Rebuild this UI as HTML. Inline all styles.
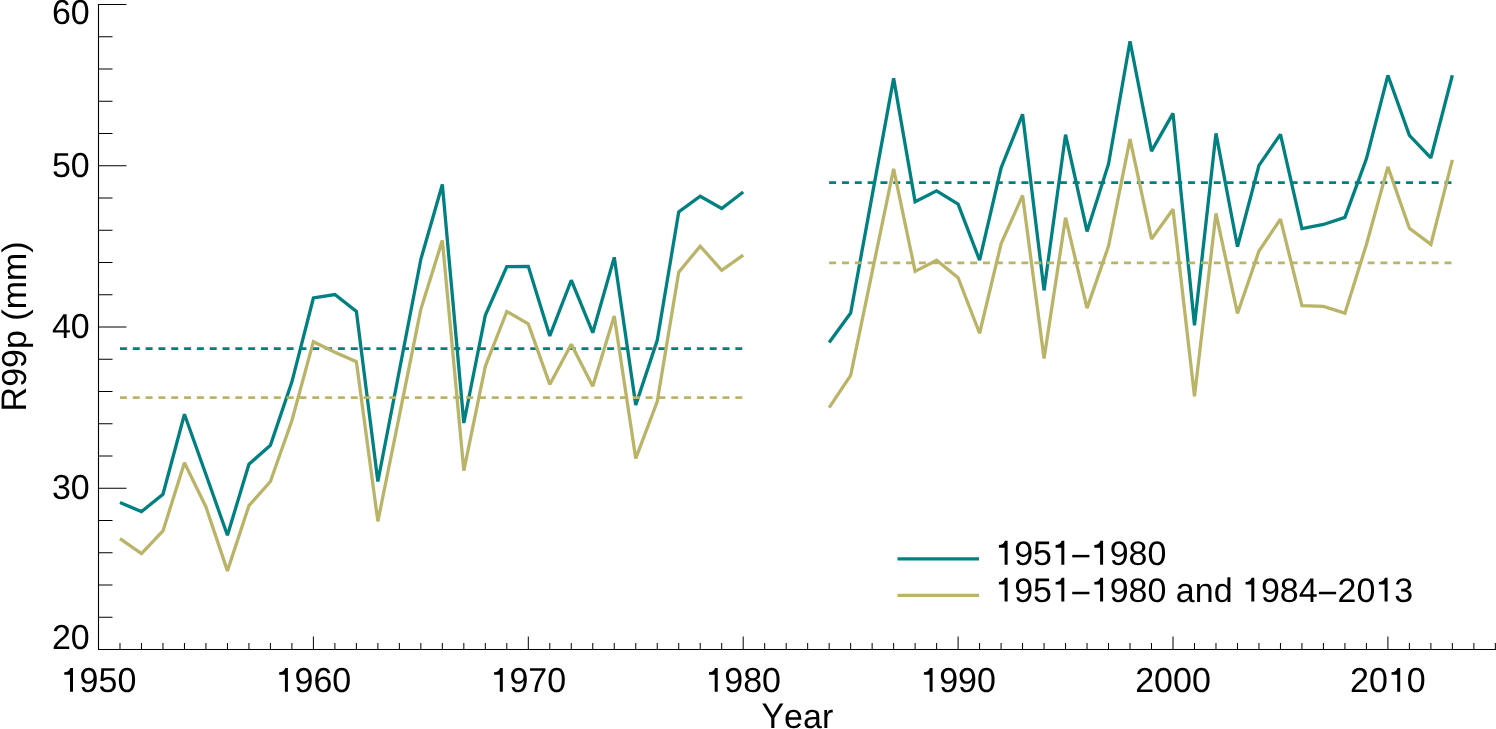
<!DOCTYPE html><html><head><meta charset="utf-8"><title>R99p</title><style>html,body{margin:0;padding:0;background:#fff;}svg{display:block;will-change:transform;}text{font-family:"Liberation Sans",sans-serif;font-size:34px;fill:#000;font-kerning:none;text-rendering:geometricPrecision;}</style></head><body>
<svg width="1496" height="729" viewBox="0 0 1496 729">
<rect width="1496" height="729" fill="#fff"/>
<g stroke="#000" stroke-width="1.1" fill="none">
<line x1="98.5" y1="4.0" x2="98.5" y2="650.0"/>
<line x1="98.0" y1="649.5" x2="1496" y2="649.5"/>
</g>
<g stroke="#000" stroke-width="1">
<line x1="98.5" y1="649.50" x2="126.50" y2="649.50"/>
<line x1="98.5" y1="617.25" x2="112.50" y2="617.25"/>
<line x1="98.5" y1="585.00" x2="112.50" y2="585.00"/>
<line x1="98.5" y1="552.75" x2="112.50" y2="552.75"/>
<line x1="98.5" y1="520.50" x2="112.50" y2="520.50"/>
<line x1="98.5" y1="488.25" x2="126.50" y2="488.25"/>
<line x1="98.5" y1="456.00" x2="112.50" y2="456.00"/>
<line x1="98.5" y1="423.75" x2="112.50" y2="423.75"/>
<line x1="98.5" y1="391.50" x2="112.50" y2="391.50"/>
<line x1="98.5" y1="359.25" x2="112.50" y2="359.25"/>
<line x1="98.5" y1="327.00" x2="126.50" y2="327.00"/>
<line x1="98.5" y1="294.75" x2="112.50" y2="294.75"/>
<line x1="98.5" y1="262.50" x2="112.50" y2="262.50"/>
<line x1="98.5" y1="230.25" x2="112.50" y2="230.25"/>
<line x1="98.5" y1="198.00" x2="112.50" y2="198.00"/>
<line x1="98.5" y1="165.75" x2="126.50" y2="165.75"/>
<line x1="98.5" y1="133.50" x2="112.50" y2="133.50"/>
<line x1="98.5" y1="101.25" x2="112.50" y2="101.25"/>
<line x1="98.5" y1="69.00" x2="112.50" y2="69.00"/>
<line x1="98.5" y1="36.75" x2="112.50" y2="36.75"/>
<line x1="98.5" y1="4.50" x2="126.50" y2="4.50"/>
<line x1="119.99" y1="649.5" x2="119.99" y2="643.00"/>
<line x1="141.48" y1="649.5" x2="141.48" y2="643.00"/>
<line x1="162.97" y1="649.5" x2="162.97" y2="643.00"/>
<line x1="184.46" y1="649.5" x2="184.46" y2="643.00"/>
<line x1="205.95" y1="649.5" x2="205.95" y2="643.00"/>
<line x1="227.44" y1="649.5" x2="227.44" y2="643.00"/>
<line x1="248.93" y1="649.5" x2="248.93" y2="643.00"/>
<line x1="270.42" y1="649.5" x2="270.42" y2="643.00"/>
<line x1="291.91" y1="649.5" x2="291.91" y2="643.00"/>
<line x1="313.40" y1="649.5" x2="313.40" y2="636.50"/>
<line x1="334.89" y1="649.5" x2="334.89" y2="643.00"/>
<line x1="356.38" y1="649.5" x2="356.38" y2="643.00"/>
<line x1="377.87" y1="649.5" x2="377.87" y2="643.00"/>
<line x1="399.36" y1="649.5" x2="399.36" y2="643.00"/>
<line x1="420.85" y1="649.5" x2="420.85" y2="643.00"/>
<line x1="442.34" y1="649.5" x2="442.34" y2="643.00"/>
<line x1="463.83" y1="649.5" x2="463.83" y2="643.00"/>
<line x1="485.32" y1="649.5" x2="485.32" y2="643.00"/>
<line x1="506.81" y1="649.5" x2="506.81" y2="643.00"/>
<line x1="528.30" y1="649.5" x2="528.30" y2="636.50"/>
<line x1="549.79" y1="649.5" x2="549.79" y2="643.00"/>
<line x1="571.28" y1="649.5" x2="571.28" y2="643.00"/>
<line x1="592.77" y1="649.5" x2="592.77" y2="643.00"/>
<line x1="614.26" y1="649.5" x2="614.26" y2="643.00"/>
<line x1="635.75" y1="649.5" x2="635.75" y2="643.00"/>
<line x1="657.24" y1="649.5" x2="657.24" y2="643.00"/>
<line x1="678.73" y1="649.5" x2="678.73" y2="643.00"/>
<line x1="700.22" y1="649.5" x2="700.22" y2="643.00"/>
<line x1="721.71" y1="649.5" x2="721.71" y2="643.00"/>
<line x1="743.20" y1="649.5" x2="743.20" y2="636.50"/>
<line x1="764.69" y1="649.5" x2="764.69" y2="643.00"/>
<line x1="786.18" y1="649.5" x2="786.18" y2="643.00"/>
<line x1="807.67" y1="649.5" x2="807.67" y2="643.00"/>
<line x1="829.16" y1="649.5" x2="829.16" y2="643.00"/>
<line x1="850.65" y1="649.5" x2="850.65" y2="643.00"/>
<line x1="872.14" y1="649.5" x2="872.14" y2="643.00"/>
<line x1="893.63" y1="649.5" x2="893.63" y2="643.00"/>
<line x1="915.12" y1="649.5" x2="915.12" y2="643.00"/>
<line x1="936.61" y1="649.5" x2="936.61" y2="643.00"/>
<line x1="958.10" y1="649.5" x2="958.10" y2="636.50"/>
<line x1="979.59" y1="649.5" x2="979.59" y2="643.00"/>
<line x1="1001.08" y1="649.5" x2="1001.08" y2="643.00"/>
<line x1="1022.57" y1="649.5" x2="1022.57" y2="643.00"/>
<line x1="1044.06" y1="649.5" x2="1044.06" y2="643.00"/>
<line x1="1065.55" y1="649.5" x2="1065.55" y2="643.00"/>
<line x1="1087.04" y1="649.5" x2="1087.04" y2="643.00"/>
<line x1="1108.53" y1="649.5" x2="1108.53" y2="643.00"/>
<line x1="1130.02" y1="649.5" x2="1130.02" y2="643.00"/>
<line x1="1151.51" y1="649.5" x2="1151.51" y2="643.00"/>
<line x1="1173.00" y1="649.5" x2="1173.00" y2="636.50"/>
<line x1="1194.49" y1="649.5" x2="1194.49" y2="643.00"/>
<line x1="1215.98" y1="649.5" x2="1215.98" y2="643.00"/>
<line x1="1237.47" y1="649.5" x2="1237.47" y2="643.00"/>
<line x1="1258.96" y1="649.5" x2="1258.96" y2="643.00"/>
<line x1="1280.45" y1="649.5" x2="1280.45" y2="643.00"/>
<line x1="1301.94" y1="649.5" x2="1301.94" y2="643.00"/>
<line x1="1323.43" y1="649.5" x2="1323.43" y2="643.00"/>
<line x1="1344.92" y1="649.5" x2="1344.92" y2="643.00"/>
<line x1="1366.41" y1="649.5" x2="1366.41" y2="643.00"/>
<line x1="1387.90" y1="649.5" x2="1387.90" y2="636.50"/>
<line x1="1409.39" y1="649.5" x2="1409.39" y2="643.00"/>
<line x1="1430.88" y1="649.5" x2="1430.88" y2="643.00"/>
<line x1="1452.37" y1="649.5" x2="1452.37" y2="643.00"/>
<line x1="1473.86" y1="649.5" x2="1473.86" y2="643.00"/>
<line x1="1495.35" y1="649.5" x2="1495.35" y2="643.00"/>
</g>
<g><text transform="translate(51.89,24.3) scale(1,1.02)">60</text></g>
<g><text transform="translate(51.89,177.2) scale(1,1.02)">50</text></g>
<g><text transform="translate(51.89,338.0) scale(1,1.02)">40</text></g>
<g><text transform="translate(51.89,499.2) scale(1,1.02)">30</text></g>
<g><text transform="translate(51.89,648.8) scale(1,1.02)">20</text></g>
<g><path transform="translate(60.69,691.8) scale(0.034,-0.034)" d="M362 0L274 0L274 500L106 500L106 578C195 584 252 610 284 703L362 703Z"/><text transform="translate(79.60,691.8) scale(1,1.02)">950</text></g>
<g><path transform="translate(275.59,691.8) scale(0.034,-0.034)" d="M362 0L274 0L274 500L106 500L106 578C195 584 252 610 284 703L362 703Z"/><text transform="translate(294.50,691.8) scale(1,1.02)">960</text></g>
<g><path transform="translate(490.49,691.8) scale(0.034,-0.034)" d="M362 0L274 0L274 500L106 500L106 578C195 584 252 610 284 703L362 703Z"/><text transform="translate(509.40,691.8) scale(1,1.02)">970</text></g>
<g><path transform="translate(705.39,691.8) scale(0.034,-0.034)" d="M362 0L274 0L274 500L106 500L106 578C195 584 252 610 284 703L362 703Z"/><text transform="translate(724.30,691.8) scale(1,1.02)">980</text></g>
<g><path transform="translate(920.29,691.8) scale(0.034,-0.034)" d="M362 0L274 0L274 500L106 500L106 578C195 584 252 610 284 703L362 703Z"/><text transform="translate(939.20,691.8) scale(1,1.02)">990</text></g>
<g><text transform="translate(1135.19,691.8) scale(1,1.02)">2000</text></g>
<g><text transform="translate(1350.09,691.8) scale(1,1.02)">20</text><path transform="translate(1387.90,691.8) scale(0.034,-0.034)" d="M362 0L274 0L274 500L106 500L106 578C195 584 252 610 284 703L362 703Z"/><text transform="translate(1406.80,691.8) scale(1,1.02)">0</text></g>
<g><text transform="translate(761.40,728.2) scale(1,1.044)">Y</text><text transform="translate(784.07,728.2) scale(1,1.001)">ear</text></g>
<g transform="translate(25.5,326.4) rotate(-90)"><text transform="translate(-85.00,0.0) scale(1,1.044)">R</text><text transform="translate(-60.45,0.0) scale(1,1.02)">99</text><text transform="translate(-22.64,0.0) scale(1,1.001)">p&#160;(mm)</text></g>
<polyline points="119.99,502.55 141.48,511.63 162.97,494.22 184.46,414.28 205.95,474.54 227.44,535.30 248.93,464.22 270.42,445.20 291.91,381.82 313.40,297.98 334.89,294.54 356.38,311.36 377.87,481.48 399.36,370.54 420.85,259.27 442.34,184.45 463.83,423.01 485.32,315.23 506.81,266.69 528.30,266.37 549.79,335.93 571.28,280.24 592.77,332.68 614.26,257.34 635.75,405.05 657.24,340.38 678.73,211.87 700.22,196.27 721.71,208.48 743.20,192.03" stroke="#008080" fill="none" stroke-width="3.3" stroke-linejoin="miter" stroke-miterlimit="2"/>
<polyline points="829.16,342.48 850.65,312.97 872.14,195.58 893.63,78.35 915.12,201.76 936.61,190.86 958.10,204.13 979.59,260.24 1001.08,168.01 1022.57,114.31 1044.06,290.40 1065.55,134.63 1087.04,231.38 1108.53,163.98 1130.02,41.27 1151.51,151.08 1173.00,113.34 1194.49,325.42 1215.98,133.34 1237.47,246.76 1258.96,165.43 1280.45,134.35 1301.94,228.51 1323.43,224.48 1344.92,217.35 1366.41,158.82 1387.90,75.29 1409.39,135.27 1430.88,157.88 1452.37,75.29" stroke="#008080" fill="none" stroke-width="3.3" stroke-linejoin="miter" stroke-miterlimit="2"/>
<line x1="119.99" y1="348.61" x2="743.20" y2="348.61" stroke="#008080" stroke-width="2.75" stroke-dasharray="6.95 5.87"/>
<line x1="829.16" y1="182.60" x2="1452.37" y2="182.60" stroke="#008080" stroke-width="2.75" stroke-dasharray="6.95 5.87"/>
<polyline points="119.99,538.62 141.48,553.57 162.97,530.98 184.46,462.80 205.95,506.97 227.44,570.89 248.93,505.66 270.42,481.48 291.91,420.52 313.40,341.67 334.89,352.16 356.38,361.67 377.87,521.35 399.36,415.69 420.85,309.26 442.34,240.34 463.83,470.61 485.32,366.34 506.81,311.52 528.30,323.94 549.79,384.41 571.28,344.25 592.77,386.18 614.26,316.04 635.75,458.42 657.24,401.50 678.73,272.18 700.22,246.21 721.71,270.24 743.20,255.08" stroke="#BAB468" fill="none" stroke-width="3.3" stroke-linejoin="miter" stroke-miterlimit="2"/>
<polyline points="829.16,407.62 850.65,375.38 872.14,272.18 893.63,168.81 915.12,271.37 936.61,260.24 958.10,277.66 979.59,333.24 1001.08,243.76 1022.57,195.42 1044.06,358.44 1065.55,217.67 1087.04,308.13 1108.53,246.15 1130.02,139.16 1151.51,238.94 1173.00,209.29 1194.49,396.34 1215.98,213.32 1237.47,313.45 1258.96,251.05 1280.45,219.12 1301.94,305.71 1323.43,306.36 1344.92,313.13 1366.41,244.54 1387.90,166.85 1409.39,228.32 1430.88,244.34 1452.37,159.95" stroke="#BAB468" fill="none" stroke-width="3.3" stroke-linejoin="miter" stroke-miterlimit="2"/>
<line x1="119.99" y1="397.63" x2="743.20" y2="397.63" stroke="#BAB468" stroke-width="2.75" stroke-dasharray="6.95 5.87"/>
<line x1="829.16" y1="262.82" x2="1452.37" y2="262.82" stroke="#BAB468" stroke-width="2.75" stroke-dasharray="6.95 5.87"/>
<line x1="897.5" y1="558.8" x2="979" y2="558.8" stroke="#008080" stroke-width="3.3"/>
<line x1="897.5" y1="595.3" x2="979" y2="595.3" stroke="#BAB468" stroke-width="3.3"/>
<g><path transform="translate(995.30,564.7) scale(0.034,-0.034)" d="M362 0L274 0L274 500L106 500L106 578C195 584 252 610 284 703L362 703Z"/><text transform="translate(1014.20,564.7) scale(1,1.0)">95</text><path transform="translate(1052.01,564.7) scale(0.034,-0.034)" d="M362 0L274 0L274 500L106 500L106 578C195 584 252 610 284 703L362 703Z"/><rect x="1072.24" y="554.87" width="17.20" height="2.48"/><path transform="translate(1090.77,564.7) scale(0.034,-0.034)" d="M362 0L274 0L274 500L106 500L106 578C195 584 252 610 284 703L362 703Z"/><text transform="translate(1109.68,564.7) scale(1,1.0)">980</text></g>
<g><path transform="translate(995.30,601.6) scale(0.034,-0.034)" d="M362 0L274 0L274 500L106 500L106 578C195 584 252 610 284 703L362 703Z"/><text transform="translate(1014.20,601.6) scale(1,1.0)">95</text><path transform="translate(1052.01,601.6) scale(0.034,-0.034)" d="M362 0L274 0L274 500L106 500L106 578C195 584 252 610 284 703L362 703Z"/><rect x="1072.24" y="591.77" width="17.20" height="2.48"/><path transform="translate(1090.77,601.6) scale(0.034,-0.034)" d="M362 0L274 0L274 500L106 500L106 578C195 584 252 610 284 703L362 703Z"/><text transform="translate(1109.68,601.6) scale(1,1.0)">980</text><text transform="translate(1166.39,601.6) scale(1,1.001)">&#160;and&#160;</text><path transform="translate(1242.00,601.6) scale(0.034,-0.034)" d="M362 0L274 0L274 500L106 500L106 578C195 584 252 610 284 703L362 703Z"/><text transform="translate(1260.91,601.6) scale(1,1.0)">984</text><rect x="1318.95" y="591.77" width="17.20" height="2.48"/><text transform="translate(1337.48,601.6) scale(1,1.0)">20</text><path transform="translate(1375.28,601.6) scale(0.034,-0.034)" d="M362 0L274 0L274 500L106 500L106 578C195 584 252 610 284 703L362 703Z"/><text transform="translate(1394.19,601.6) scale(1,1.0)">3</text></g>
</svg></body></html>
